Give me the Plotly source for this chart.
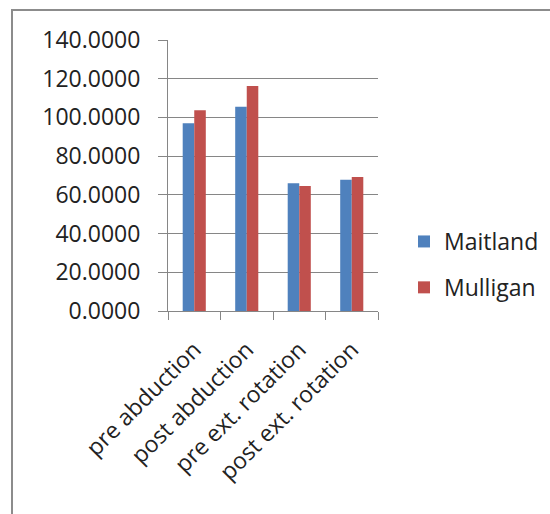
import plotly.graph_objects as go

categories = ["pre abduction", "post abduction", "pre ext. rotation", "post ext. rotation"]
maitland = [97.0, 105.5, 66.0, 67.8]
mulligan = [103.7, 116.2, 64.6, 69.2]
y_ticks = [0, 20, 40, 60, 80, 100, 120, 140]

W, H = 550, 514
L, R, T, B = 168, 378, 40, 311  # plot area pixel box
pw, ph = R - L, B - T

FONT = "Open Sans"
GRAY = "#868686"
FS = 23

fig = go.Figure()
fig.add_trace(go.Bar(name="Maitland", x=categories, y=maitland, marker_color="#4F81BD",
                     marker_line_width=0, legendgroup="a"))
fig.add_trace(go.Bar(name="Mulligan", x=categories, y=mulligan, marker_color="#C0504D",
                     marker_line_width=0, legendgroup="b"))


def px_x(x):
    return (x - L) / pw


def px_y(y):
    return (B - y) / ph


fig.update_layout(
    width=W, height=H,
    margin=dict(l=L, r=W - R, t=T, b=H - B, pad=0, autoexpand=False),
    paper_bgcolor="white", plot_bgcolor="white",
    barmode="group", bargap=0.56, bargroupgap=0,
    font=dict(family=FONT, size=FS, color="#222222"),
    legend=dict(x=px_x(404), y=px_y(220), xanchor="left", yanchor="top",
                font=dict(family=FONT, size=FS, color="#222222"),
                tracegroupgap=13, bgcolor="rgba(0,0,0,0)"),
    shapes=[dict(type="rect", xref="paper", yref="paper",
                 x0=px_x(12), x1=px_x(600), y0=px_y(600), y1=px_y(10),
                 line=dict(color="#8c8c8c", width=2), fillcolor="rgba(0,0,0,0)",
                 layer="below")],
)
fig.update_yaxes(range=[0, 140], tickvals=y_ticks, tickformat=".4f",
                 showgrid=True, gridcolor=GRAY, gridwidth=1,
                 showline=True, linecolor=GRAY, linewidth=1,
                 ticks="outside", ticklen=9, tickcolor=GRAY,
                 ticklabelstandoff=13, zeroline=False, automargin=False,
                 tickfont=dict(family=FONT, size=FS, color="#222222"))
fig.update_xaxes(tickangle=-45, tickson="boundaries", ticks="outside", ticklen=8,
                 tickcolor=GRAY, showline=True, linecolor=GRAY, linewidth=1,
                 ticklabelstandoff=15, automargin=False,
                 tickfont=dict(family=FONT, size=FS, color="#222222"))

fig.write_html("out.html")
